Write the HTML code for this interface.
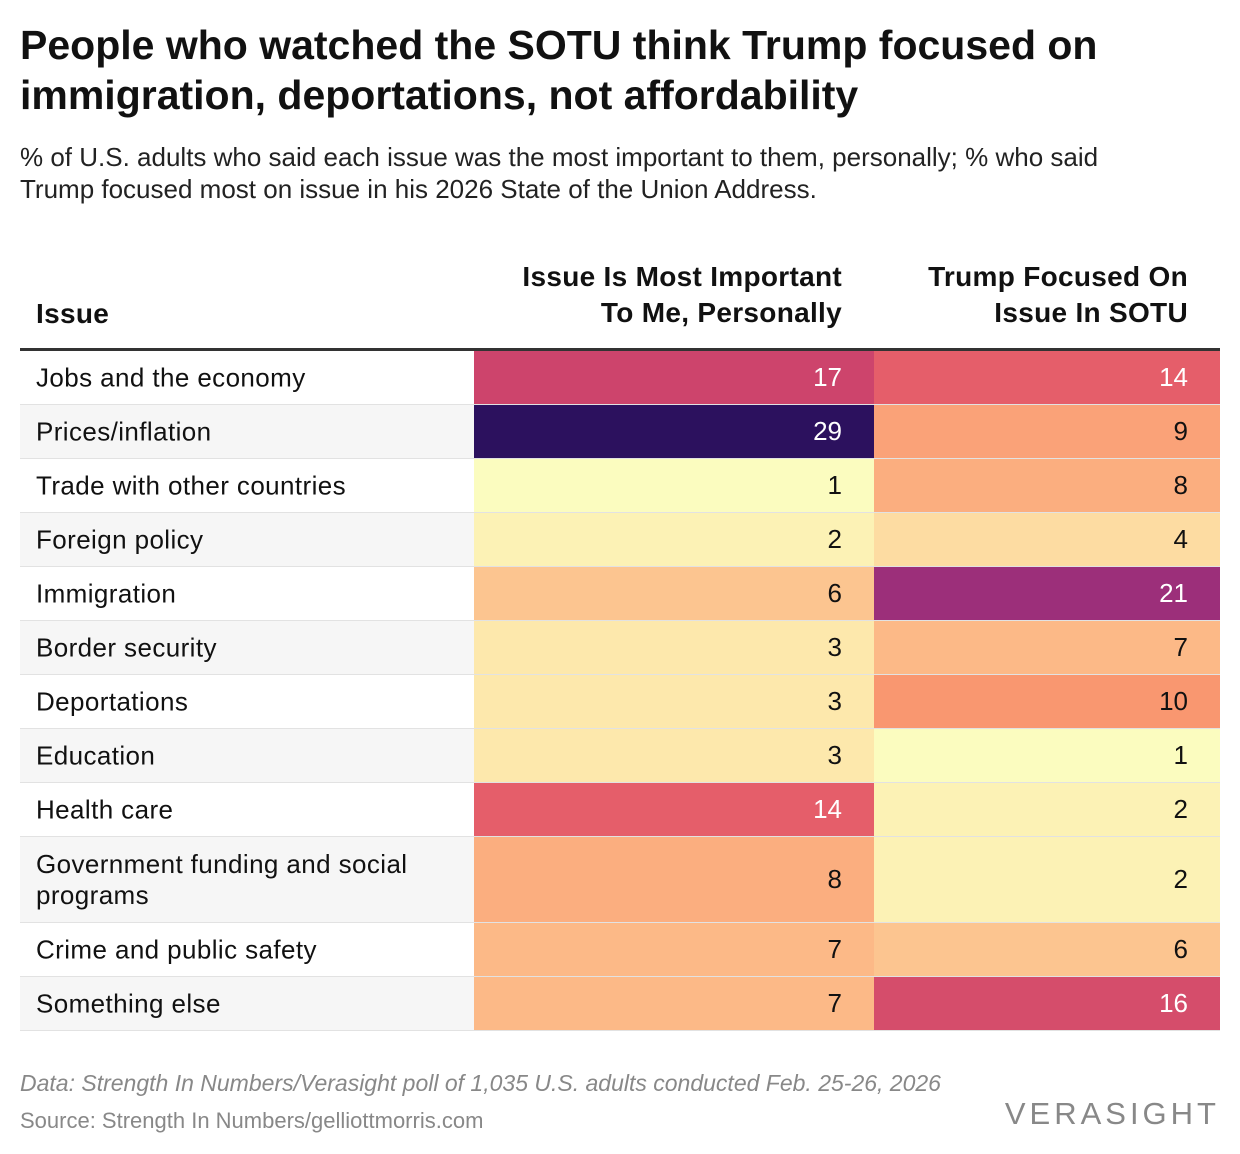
<!DOCTYPE html>
<html><head><meta charset="utf-8">
<style>
body{margin:0;width:1240px;height:1154px;background:#fff;font-family:"Liberation Sans",Arial,sans-serif;color:#111;position:relative;overflow:hidden}
#title{position:absolute;left:20px;top:20px;font-size:41px;font-weight:bold;line-height:50px;width:1210px}
#sub{position:absolute;left:20px;top:141px;font-size:26px;line-height:32px;color:#222;width:1150px}
.h{position:absolute;font-size:28px;font-weight:bold;line-height:36px;letter-spacing:0.3px}
#tbl{position:absolute;left:20px;top:348px;width:1200px;border-top:3px solid #333}
.row{position:relative;border-bottom:1px solid #e2e2e2;box-sizing:border-box}
.lab{position:absolute;left:16px;width:430px;font-size:26px;letter-spacing:0.4px;line-height:31px;top:50%;transform:translateY(-50%)}
.c{position:absolute;top:0;bottom:0;font-size:26px;text-align:right;box-sizing:border-box;padding-right:32px;display:flex;align-items:center;justify-content:flex-end}
#foot1{position:absolute;left:20px;top:1070px;font-size:23px;font-style:italic;color:#888}
#foot2{position:absolute;left:20px;top:1108px;font-size:22px;color:#888}
#logo{position:absolute;right:20px;top:1096px;font-size:31px;letter-spacing:4px;color:#888}
</style></head><body>
<div id="title">People who watched the SOTU think Trump focused on immigration, deportations, not affordability</div>
<div id="sub">% of U.S. adults who said each issue was the most important to them, personally; % who said Trump focused most on issue in his 2026 State of the Union Address.</div>
<div class="h" style="left:36px;top:296px">Issue</div>
<div class="h" style="right:398px;top:259px;text-align:right">Issue Is Most Important<br>To Me, Personally</div>
<div class="h" style="right:52px;top:259px;text-align:right">Trump Focused On<br>Issue In SOTU</div>
<div id="tbl"></div>
<div id="foot1">Data: Strength In Numbers/Verasight poll of 1,035 U.S. adults conducted Feb. 25-26, 2026</div>
<div id="foot2">Source: Strength In Numbers/gelliottmorris.com</div>
<div id="logo">VERASIGHT</div>
<script>
const issues=["Jobs and the economy","Prices/inflation","Trade with other countries","Foreign policy","Immigration","Border security","Deportations","Education","Health care","Government funding and social programs","Crime and public safety","Something else"];
const important=[17,29,1,2,6,3,3,3,14,8,7,7];
const focused=[14,9,8,4,21,7,10,1,2,2,6,16];
const maxVal=29;
const stops=[[0,[251,252,191]],[0.07,[253,232,172]],[0.2,[252,190,138]],[0.33,[249,148,110]],[0.45,[232,98,106]],[0.57,[205,68,108]],[0.72,[154,46,123]],[0.86,[95,25,110]],[1,[44,17,94]]];
function color(v){const t=Math.max(0,Math.min(1,(v-1)/(maxVal-1)));for(let i=1;i<stops.length;i++){if(t<=stops[i][0]){const a=stops[i-1],b=stops[i];const f=(t-a[0])/(b[0]-a[0]);const c=a[1].map((x,k)=>Math.round(x+(b[1][k]-x)*f));return `rgb(${c})`;}}return 'rgb(44,17,94)';}
const tbl=document.getElementById('tbl');
issues.forEach((name,i)=>{
 const r=document.createElement('div');r.className='row';
 
 
 r.style.height=(name.length>30?86:54)+'px';
 r.style.background=i%2?'#f6f6f6':'#fff';
 const l=document.createElement('div');l.className='lab';l.textContent=name;
 
 
 r.appendChild(l);
 [[important[i],454,400],[focused[i],854,346]].forEach(([v,x,w])=>{
  const c=document.createElement('div');c.className='c';
  
  
  c.style.left=x+'px';c.style.width=w+'px';c.style.background=color(v);
  c.style.color=v>=14?'#fff':'#111';c.textContent=v;r.appendChild(c);
 });
 tbl.appendChild(r);
});
</script>
</body></html>
